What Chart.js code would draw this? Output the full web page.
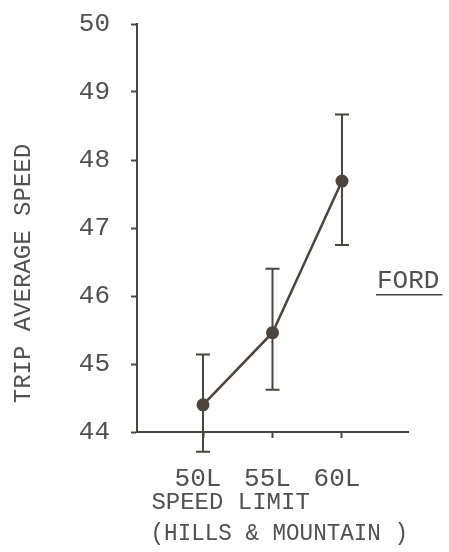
<!DOCTYPE html>
<html>
<head>
<meta charset="utf-8">
<title>Trip average speed</title>
<script src="https://cdn.jsdelivr.net/npm/chart.js@4.4.1/dist/chart.umd.min.js"></script>
<style>
  html, body { margin: 0; padding: 0; background: #fff; }
  #wrap { width: 449px; height: 552px; position: relative; }
</style>
</head>
<body>
<div id="wrap"><canvas id="chart"></canvas></div>
<script>
'use strict';

// --- data ---
const speedLimits = ['50L', '55L', '60L'];
const avgSpeed    = [44.40, 45.46, 47.69];
const errLow      = [43.71, 44.62, 46.75];
const errHigh     = [45.14, 46.40, 48.67];
const yTicks      = [44, 45, 46, 47, 48, 49, 50];

// --- look ---
const INK  = '#4b4542';
const TEXT = '#505050';
const MONO = "'Liberation Mono', 'DejaVu Sans Mono', monospace";

// vertical bars with caps, drawn under the points
const errorBars = {
  id: 'errorBars',
  beforeDatasetsDraw(chart, args, opts) {
    const ctx = chart.ctx;
    const xs = chart.scales.x, ys = chart.scales.y;
    ctx.save();
    ctx.strokeStyle = opts.color;
    ctx.lineWidth = opts.width;
    avgSpeed.forEach(function(v, i) {
      const x = xs.getPixelForValue(i);
      const y0 = ys.getPixelForValue(errLow[i]);
      const y1 = ys.getPixelForValue(errHigh[i]);
      ctx.beginPath();
      ctx.moveTo(x, y0); ctx.lineTo(x, y1);
      ctx.moveTo(x - opts.cap, y0); ctx.lineTo(x + opts.cap, y0);
      ctx.moveTo(x - opts.cap, y1); ctx.lineTo(x + opts.cap, y1);
      ctx.stroke();
    });
    ctx.restore();
  }
};

// underlined series name to the right of the line
const seriesTag = {
  id: 'seriesTag',
  afterDraw(chart, args, opts) {
    const ctx = chart.ctx;
    const x = chart.chartArea.right + opts.dx;
    const y = chart.scales.y.getPixelForValue(opts.at);
    ctx.save();
    ctx.font = opts.font;
    ctx.fillStyle = TEXT;
    ctx.textBaseline = 'alphabetic';
    ctx.fillText(opts.text, x, y);
    const w = ctx.measureText(opts.text).width;
    ctx.strokeStyle = INK;
    ctx.lineWidth = 1.5;
    ctx.beginPath();
    ctx.moveTo(x - 1, y + 7);
    ctx.lineTo(x + w + 3, y + 7);
    ctx.stroke();
    ctx.restore();
  }
};

new Chart(document.getElementById('chart'), {
  type: 'line',
  data: {
    datasets: [{
      label: 'FORD',
      data: avgSpeed.map(function(v, i) { return { x: i, y: v }; }),
      borderColor: INK,
      backgroundColor: INK,
      borderWidth: 2.5,
      pointRadius: 6.5,
      pointBackgroundColor: INK,
      pointBorderWidth: 0,
      tension: 0,
    }]
  },
  options: {
    responsive: true,
    maintainAspectRatio: false,
    animation: false,
    layout: { padding: { top: 24, right: 41, bottom: 0, left: 0 } },
    plugins: {
      legend: { display: false },
      tooltip: { enabled: false },
      errorBars: { color: INK, width: 2, cap: 7 },
      seriesTag: { text: 'FORD', at: 46.12, dx: -31, font: '26px ' + MONO },
    },
    scales: {
      x: {
        type: 'linear',
        min: -0.95,
        max: 2.95,
        afterBuildTicks: function(s) { s.ticks = speedLimits.map(function(l, i) { return { value: i }; }); },
        afterFit: function(s) { s.height = 120; },
        border: { display: true, color: INK, width: 2 },
        grid: { drawOnChartArea: false, drawTicks: true, tickLength: 6, tickColor: INK, tickWidth: 2 },
        ticks: {
          color: TEXT,
          font: { family: MONO, size: 26 },
          padding: 26,
          labelOffset: -5,
          maxRotation: 0,
          callback: function(v) { return speedLimits[v]; },
        },
        title: {
          display: true,
          align: 'start',
          text: [' SPEED LIMIT', ' (HILLS & MOUNTAIN )'],
          color: TEXT,
          font: { family: MONO, size: 24, lineHeight: 1.3 },
          padding: { top: 0, bottom: 3 },
        },
      },
      y: {
        min: 44,
        max: 50,
        afterBuildTicks: function(s) { s.ticks = yTicks.map(function(v) { return { value: v }; }); },
        afterFit: function(s) {
          s.width = 137;
          s.paddingTop = 0;
          s.paddingBottom = 0;
        },
        border: { display: true, color: INK, width: 2 },
        grid: { drawOnChartArea: false, drawTicks: true, tickLength: 6, tickColor: INK, tickWidth: 2 },
        ticks: {
          color: TEXT,
          font: { family: MONO, size: 26 },
          padding: 21,
        },
        title: {
          display: true,
          align: 'start',
          text: '  TRIP AVERAGE SPEED',
          color: TEXT,
          font: { family: MONO, size: 24, lineHeight: 1.3 },
          padding: { top: 8, bottom: 0 },
        },
      },
    },
  },
  plugins: [errorBars, seriesTag],
});
</script>
</body>
</html>
